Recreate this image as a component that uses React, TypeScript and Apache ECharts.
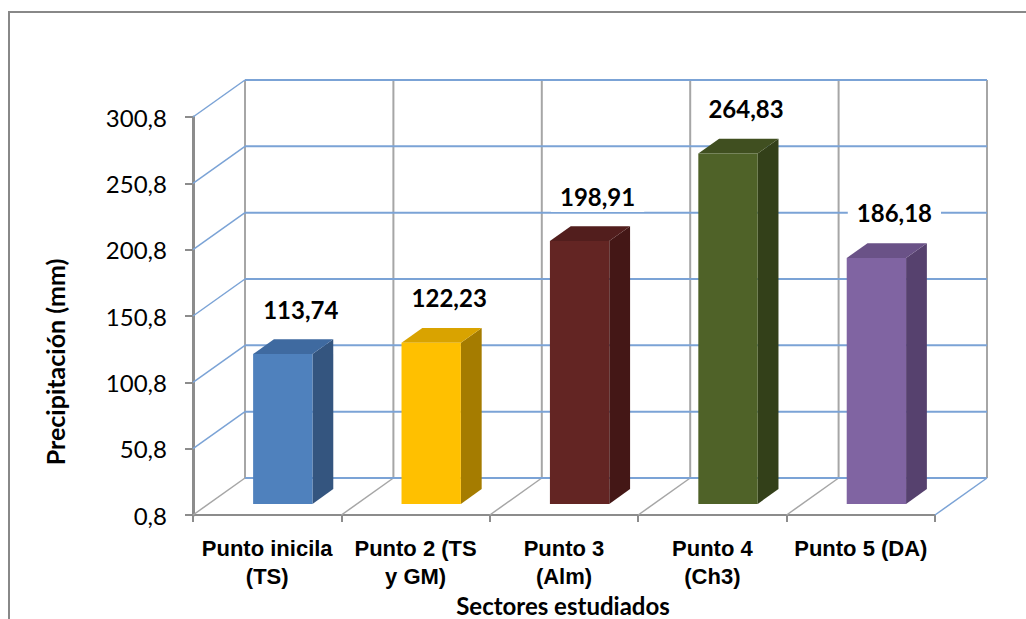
import React, { useEffect, useRef } from "react";
import * as echarts from "echarts";

// ---- data ----
const CATEGORIES = [
  "Punto inicila\n(TS)",
  "Punto 2 (TS\ny GM)",
  "Punto 3\n(Alm)",
  "Punto 4\n(Ch3)",
  "Punto 5 (DA)",
];
const VALUES = [113.74, 122.23, 198.91, 264.83, 186.18];
const Y_TICKS = [0.8, 50.8, 100.8, 150.8, 200.8, 250.8, 300.8];
const X_TITLE = "Sectores estudiados";
const Y_TITLE = "Precipitación (mm)";

// ---- styles ----
const FRONT_COLORS = ["#4F81BD", "#FFC000", "#632523", "#4F6228", "#8064A2"];
const TOP_COLORS = ["#3F6AA0", "#D9A300", "#521E1D", "#404F20", "#6A5287"];
const SIDE_COLORS = ["#34557F", "#A57C00", "#441716", "#334019", "#56416E"];
const BLUE = "#7BA3D6";
const GRAY = "#A6A6A6";
const AXIS_GRAY = "#8C8C8C";
const DX = 52; // depth offset x (px)
const DY = -37; // depth offset y (px)
const BAR_FRONT = 0.3;
const BAR_BACK = 0.7;
const BAR_HALF = 0.2;
const LABEL_DX = 18;
const LABEL_RISE = 45;

const Y_BASE = Y_TICKS[0];
const Y_STEP = Y_TICKS[1] - Y_TICKS[0];
const Y_SPAN = Y_TICKS[Y_TICKS.length - 1] - Y_BASE;

const fmt = (v: number, d: number) => v.toFixed(d).replace(".", ",");

function renderWalls(_params: any, api: any) {
  const n = CATEGORIES.length;
  const bw = api.size([1, 0])[0];
  const c0 = api.coord([0, 0]);
  const xL = c0[0] - bw / 2;
  const y0 = c0[1];
  const xR = api.coord([n - 1, 0])[0] + bw / 2;
  const yTop = api.coord([0, Y_SPAN])[1];
  const els: any[] = [];
  const line = (x1: number, y1: number, x2: number, y2: number, stroke: string, w: number) =>
    els.push({ type: "line", shape: { x1, y1, x2, y2 }, style: { stroke, lineWidth: w } });
  for (let i = 0; i <= n; i++) {
    const xb = xL + i * bw;
    line(xb + DX, y0 + DY, xb + DX, yTop + DY, GRAY, 2);
    line(xb, y0, xb + DX, y0 + DY, i === n ? BLUE : GRAY, 1.5);
  }
  Y_TICKS.forEach((t, k) => {
    const y = api.coord([0, t - Y_BASE])[1];
    line(xL + DX, y + DY, xR + DX, y + DY, BLUE, 2);
    if (k > 0) line(xL, y, xL + DX, y + DY, BLUE, 1.5);
  });
  return { type: "group", children: els };
}

function renderBar(params: any, api: any) {
  const i = api.value(0);
  const v = api.value(1);
  const idx = params.dataIndex;
  const bw = api.size([1, 0])[0];
  const top = api.coord([i, v]);
  const y0 = api.coord([i, 0])[1];
  const cx = top[0];
  const hw = bw * BAR_HALF;
  const fx = BAR_FRONT * DX;
  const fy = BAR_FRONT * DY;
  const ddx = (BAR_BACK - BAR_FRONT) * DX;
  const ddy = (BAR_BACK - BAR_FRONT) * DY;
  const xl = cx - hw + fx;
  const xr = cx + hw + fx;
  const yt = top[1] + fy;
  const yb = y0 + fy;
  return {
    type: "group",
    children: [
      {
        type: "polygon",
        shape: { points: [[xr, yt], [xr + ddx, yt + ddy], [xr + ddx, yb + ddy], [xr, yb]] },
        style: { fill: SIDE_COLORS[idx] },
      },
      {
        type: "polygon",
        shape: { points: [[xl, yt], [xr, yt], [xr + ddx, yt + ddy], [xl + ddx, yt + ddy]] },
        style: { fill: TOP_COLORS[idx] },
      },
      {
        type: "rect",
        shape: { x: xl, y: yt, width: xr - xl, height: yb - yt },
        style: { fill: FRONT_COLORS[idx] },
      },
      {
        type: "text",
        x: (xl + xr) / 2 + LABEL_DX,
        y: yt - LABEL_RISE,
        style: {
          text: fmt(VALUES[idx], 2),
          align: "center",
          verticalAlign: "middle",
          fontFamily: "Lato",
          fontWeight: "bold",
          fontSize: 24,
          fill: "#000",
          backgroundColor: "#fff",
          padding: [4, 9],
        },
      },
    ],
  };
}

export default function App() {
  const ref = useRef<HTMLDivElement>(null);
  useEffect(() => {
    if (!ref.current) return;
    const chart = echarts.init(ref.current, null, { renderer: "svg" });
    chart.setOption({
      animation: false,
      backgroundColor: "#fff",
      grid: { left: 193, right: 91, top: 117, bottom: 104 },
      xAxis: {
        type: "category",
        data: CATEGORIES,
        axisLine: { show: true, lineStyle: { color: AXIS_GRAY, width: 2 } },
        axisTick: { show: true, length: 7, lineStyle: { color: AXIS_GRAY, width: 2 } },
        axisLabel: {
          interval: 0,
          color: "#000",
          fontFamily: "Liberation Sans Narrow, Arial Narrow, Liberation Sans",
          fontWeight: "bold",
          fontSize: 22,
          lineHeight: 28,
          margin: 19,
        },
        splitLine: { show: false },
      },
      yAxis: {
        type: "value",
        min: 0,
        max: Y_SPAN,
        interval: Y_STEP,
        axisLine: { show: true, lineStyle: { color: AXIS_GRAY, width: 3 } },
        axisTick: { show: true, length: 8, lineStyle: { color: AXIS_GRAY, width: 2 } },
        axisLabel: {
          color: "#000",
          fontFamily: "Lato",
          fontSize: 24,
          margin: 26,
          formatter: (v: number) => fmt(v + Y_BASE, 1),
        },
        splitLine: { show: false },
      },
      graphic: [
        {
          type: "polyline",
          shape: { points: [[9, 640], [9, 12], [1040, 12]] },
          style: { stroke: "#888", lineWidth: 2, fill: null },
        },
        {
          type: "text",
          x: 55,
          y: 362,
          rotation: Math.PI / 2,
          style: {
            text: Y_TITLE,
            align: "center",
            verticalAlign: "middle",
            fontFamily: "Lato",
            fontWeight: "bold",
            fontSize: 25,
            fill: "#000",
          },
        },
        {
          type: "text",
          x: 563,
          y: 605,
          style: {
            text: X_TITLE,
            align: "center",
            verticalAlign: "middle",
            fontFamily: "Lato",
            fontWeight: "bold",
            fontSize: 24,
            fill: "#000",
          },
        },
      ],
      series: [
        {
          type: "custom",
          name: "walls",
          z: 1,
          clip: false,
          silent: true,
          renderItem: renderWalls,
          data: [[0, 0]],
          encode: { x: 0, y: 1 },
        },
        {
          type: "custom",
          name: "Precipitación",
          z: 2,
          clip: false,
          renderItem: renderBar,
          data: VALUES.map((v, i) => [i, v - Y_BASE]),
          encode: { x: 0, y: 1 },
        },
      ],
    });
    return () => chart.dispose();
  }, []);
  return (
    <div
      ref={ref}
      style={{ position: "fixed", left: 0, top: 0, width: 1026, height: 619 }}
    />
  );
}
